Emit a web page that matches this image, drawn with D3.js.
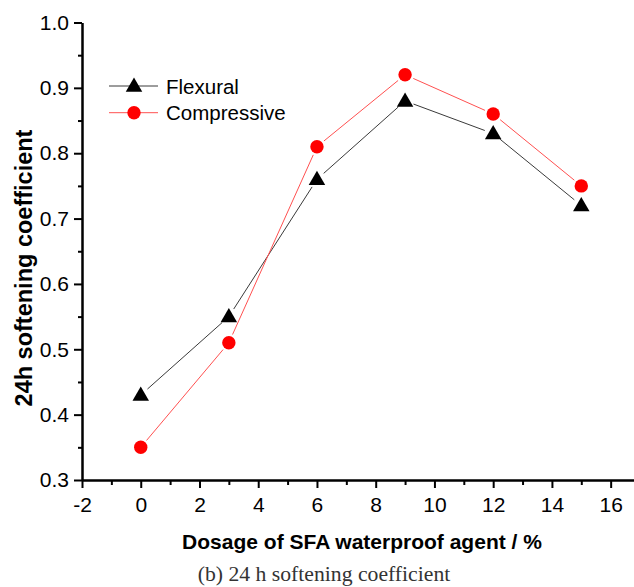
<!DOCTYPE html>
<html>
<head>
<meta charset="utf-8">
<script src="https://cdn.jsdelivr.net/npm/d3@7"></script>
<style>
  body { margin: 0; background: #fff; }
  svg { display: block; }
  .tick text { font-family: "Liberation Sans", Arial, sans-serif; font-size: 21px; fill: #000; }
</style>
</head>
<body>
<svg id="chart" width="634" height="587"></svg>
<script>
// dosage of SFA waterproof agent (%)
var dosage = [0, 3, 6, 9, 12, 15];
// 24h softening coefficient
var flexural = [0.43, 0.55, 0.76, 0.88, 0.83, 0.72];
var compressive = [0.35, 0.51, 0.81, 0.92, 0.86, 0.75];
var xTicks = [-2, 0, 2, 4, 6, 8, 10, 12, 14, 16];
var xMinorTicks = [-1, 1, 3, 5, 7, 9, 11, 13, 15];
var yTicks = [0.3, 0.4, 0.5, 0.6, 0.7, 0.8, 0.9, 1.0];
var yMinorTicks = [0.35, 0.45, 0.55, 0.65, 0.75, 0.85, 0.95];
var seriesNames = ["Flexural", "Compressive"];

var svg = d3.select("#chart");
var xScale = d3.scaleLinear().domain([-2, 17]).range([82, 82 + 19 * 29.37]);
var yScale = d3.scaleLinear().domain([0.3, 1.0]).range([480, 22.5]);

var seriesStyle = [
    {name: seriesNames[0], values: flexural, line: "#3a3a3a", marker: "triangle", fill: "#000"},
    {name: seriesNames[1], values: compressive, line: "#ff5050", marker: "circle", fill: "#ff0000"}
];

//Axes: major ticks with labels, minor ticks without
svg.append("g").attr("transform", "translate(82,0)")
    .call(d3.axisLeft(yScale).tickValues(yTicks).tickSize(8).tickSizeOuter(0)
        .tickPadding(5).tickFormat(d3.format(".1f")));
svg.append("g").attr("transform", "translate(82,0)")
    .call(d3.axisLeft(yScale).tickValues(yMinorTicks).tickSize(4).tickSizeOuter(0).tickFormat(""));
var xAxis = svg.append("g").attr("transform", "translate(0,480)")
    .call(d3.axisBottom(xScale).tickValues(xTicks).tickSize(8).tickSizeOuter(0).tickPadding(9));
svg.append("g").attr("transform", "translate(0,480)")
    .call(d3.axisBottom(xScale).tickValues(xMinorTicks).tickSize(5).tickSizeOuter(0).tickFormat(""));
svg.selectAll(".domain, .tick line").attr("stroke", "#000").attr("stroke-width", 2);
xAxis.selectAll(".tick text").text(function (d) { return d < 0 ? "-" + Math.abs(d) : d; });

//Axis titles
svg.append("text")
    .attr("transform", "translate(32,268) rotate(-90)")
    .attr("text-anchor", "middle")
    .style("font-family", "Liberation Sans, Arial, sans-serif")
    .style("font-weight", "bold")
    .style("font-size", "23.5px")
    .text("24h softening coefficient");
svg.append("text")
    .attr("x", 362).attr("y", 549)
    .attr("text-anchor", "middle")
    .style("font-family", "Liberation Sans, Arial, sans-serif")
    .style("font-weight", "bold")
    .style("font-size", "21px")
    .text("Dosage of SFA waterproof agent / %");
svg.append("text")
    .attr("x", 324).attr("y", 581)
    .attr("text-anchor", "middle")
    .style("font-family", "Liberation Serif, Times New Roman, serif")
    .style("font-size", "21.7px")
    .style("fill", "#333")
    .text("(b) 24 h softening coefficient");

function drawMarker(g, type, fill, cx, cy) {
    if (type == "triangle") {
        g.append("path")
            .attr("d", d3.symbol().type(d3.symbolTriangle).size(118)())
            .attr("transform", "translate(" + cx + "," + (cy + 1) + ")")
            .attr("fill", fill);
    } else {
        g.append("circle").attr("cx", cx).attr("cy", cy).attr("r", 6.7).attr("fill", fill);
    }
}

//Line segments stop short of each marker, like the original plot
var gap = 9;
seriesStyle.forEach(function (series) {
    var g = svg.append("g");
    var points = dosage.map(function (d, i) { return [xScale(d), yScale(series.values[i])]; });
    d3.pairs(points).forEach(function (pair) {
        var dx = pair[1][0] - pair[0][0], dy = pair[1][1] - pair[0][1];
        var len = Math.sqrt(dx * dx + dy * dy);
        var ux = dx / len, uy = dy / len;
        g.append("line")
            .attr("x1", pair[0][0] + ux * gap).attr("y1", pair[0][1] + uy * gap)
            .attr("x2", pair[1][0] - ux * gap).attr("y2", pair[1][1] - uy * gap)
            .attr("stroke", series.line).attr("stroke-width", 1);
    });
    points.forEach(function (p) { drawMarker(g, series.marker, series.fill, p[0], p[1]); });
});

//Legend
var legend = svg.append("g");
seriesStyle.forEach(function (series, i) {
    var cy = 86 + i * 26.7;
    legend.append("line").attr("x1", 109).attr("x2", 158).attr("y1", cy).attr("y2", cy)
        .attr("stroke", series.line).attr("stroke-width", 1);
    drawMarker(legend, series.marker, series.fill, 134, cy);
    legend.append("text")
        .attr("x", 166).attr("y", cy + 7.5)
        .style("font-family", "Liberation Sans, Arial, sans-serif")
        .style("font-size", "20.5px")
        .text(series.name);
});
</script>
</body>
</html>
